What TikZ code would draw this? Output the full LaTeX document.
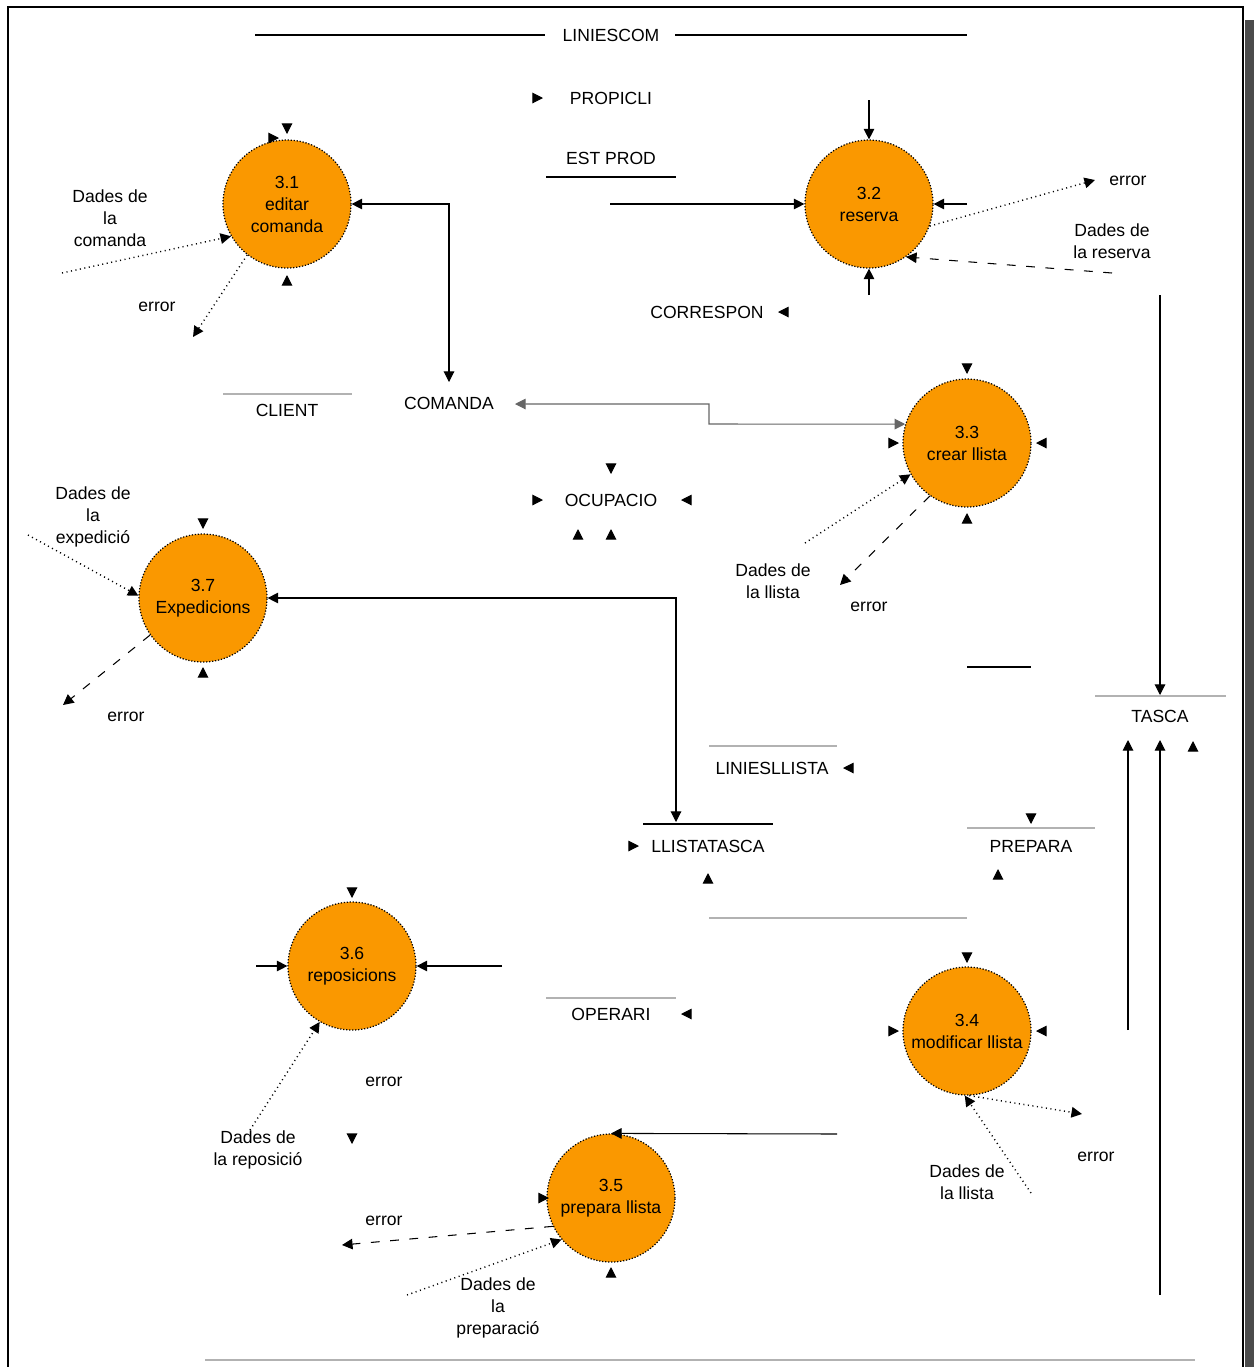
\documentclass[tikz,border=0pt]{standalone}
\usepackage{fontspec}
\setmainfont{Liberation Sans}
\usetikzlibrary{arrows.meta}
\definecolor{procorange}{HTML}{FA9800}

\begin{document}
\begin{tikzpicture}
    [x=0.02cm, y=-0.02cm,
    every node/.append style={font=\fontsize{10}{12.5}\selectfont},
    process/.style={circle, fill=procorange, draw, line width=0.7pt, densely dotted, minimum size=2.56cm, inner sep=0pt, align=center},
    store/.style={inner sep=1pt},
    label text/.style={align=center, inner sep=1pt},
    flow/.style={-{Triangle[length=6pt,width=6pt]}, line width=0.6pt},
    twoway/.style={{Triangle[length=6pt,width=6pt]}-{Triangle[length=6pt,width=6pt]}, line width=0.6pt},
    dataflow/.style={flow, dotted, line width=0.8pt},
    errflow/.style={flow, dash pattern=on 5pt off 6pt},
    storeline/.style={line width=0.7pt},
    paleline/.style={gray!60, line width=0.7pt}]

    \useasboundingbox (0,0) rectangle (1254,1367);
    % frame and shadow
    \fill[gray!60!black] (1245,20) rectangle (1254,1367);
    \draw[line width=1pt] (8,1367) -- (8,7) -- (1243,7) -- (1243,1367);

    % processes
    \node[process] (p31) at (287,204) {3.1\\editar\\comanda};
    \node[process] (p32) at (869,204) {3.2\\reserva};
    \node[process] (p33) at (967,443) {3.3\\crear llista};
    \node[process] (p34) at (967,1031) {3.4\\modificar llista};
    \node[process] (p35) at (611,1198) {3.5\\prepara llista};
    \node[process] (p36) at (352,966) {3.6\\reposicions};
    \node[process] (p37) at (203,598) {3.7\\Expedicions};

    % stores
    \node[store] (liniescom) at (611,35) {LINIESCOM};
    \node[store] (propicli) at (611,98) {PROPICLI};
    \node[store] (estprod) at (611,158) {EST PROD};
    \node[store] (correspon) at (707,312) {CORRESPON};
    \node[store] (client) at (287,410) {CLIENT};
    \node[store] (comanda) at (449,403) {COMANDA};
    \node[store] (ocupacio) at (611,500) {OCUPACIO};
    \node[store] (tasca) at (1160,716) {TASCA};
    \node[store] (liniesllista) at (772,768) {LINIESLLISTA};
    \node[store] (llistatasca) at (708,846) {LLISTATASCA};
    \node[store] (prepara) at (1031,846) {PREPARA};
    \node[store] (operari) at (611,1014) {OPERARI};

    % flow labels
    \node[label text] (d31) at (110,218) {Dades de\\la\\comanda};
    \node[label text] (e31) at (157,307) {error};
    \node[label text] (e32) at (1128,181) {error};
    \node[label text] (d32) at (1112,241) {Dades de\\la reserva};
    \node[label text] (d33) at (773,581) {Dades de\\la llista};
    \node[label text] (e33) at (869,607) {error};
    \node[label text] (d37) at (93,517) {Dades de\\la\\expedició};
    \node[label text] (e37) at (126,717) {error};
    \node[label text] (d36) at (258,1150) {Dades de\\la reposició};
    \node[label text] (e36) at (384,1082) {error};
    \node[label text] (e34) at (1096,1157) {error};
    \node[label text] (d34) at (967,1182) {Dades de\\la llista};
    \node[label text] (e35) at (384,1221) {error};
    \node[label text] (d35) at (498,1308) {Dades de\\la\\preparació};

    % loose ends
    \coordinate (c31a) at (62,273);
    \coordinate (c31b) at (193,337);
    \coordinate (c32a) at (610,204);
    \coordinate (c32b) at (869,100);
    \coordinate (c32c) at (967,204);
    \coordinate (c32d) at (869,295);
    \coordinate (c32e) at (1095,180);
    \coordinate (c32f) at (1112,273);
    \coordinate (ccom) at (449,382);
    \coordinate (ccomb) at (515,404);
    \coordinate (c33a) at (805,543);
    \coordinate (c33b) at (840,585);
    \coordinate (c37a) at (28,535);
    \coordinate (c37b) at (63,705);
    \coordinate (cllt) at (676,822);
    \coordinate (ctasa) at (1160,295);
    \coordinate (ctasb) at (1160,695);
    \coordinate (ctasc) at (1128,1030);
    \coordinate (ctasd) at (1160,1295);
    \coordinate (c36a) at (256,966);
    \coordinate (c36b) at (502,966);
    \coordinate (c36c) at (250,1130);
    \coordinate (c34a) at (1082,1114);
    \coordinate (c34b) at (1031,1193);
    \coordinate (c35a) at (837,1134);
    \coordinate (c35b) at (342,1245);
    \coordinate (c35c) at (407,1295);

    % store lines
    \draw[storeline] (255,35) -- (545,35);
    \draw[storeline] (675,35) -- (967,35);
    \draw[storeline] (546,177) -- (676,177);
    \draw[paleline] (223,394) -- (352,394);
    \draw[storeline] (967,667) -- (1031,667);
    \draw[paleline] (1095,696) -- (1226,696);
    \draw[paleline] (709,746) -- (837,746);
    \draw[storeline] (643,824) -- (773,824);
    \draw[paleline] (967,828) -- (1095,828);
    \draw[paleline] (709,918) -- (967,918);
    \draw[paleline] (546,998) -- (676,998);
    \draw[paleline] (205,1360) -- (1195,1360);

    % flows
    \draw[twoway] (ccom) -- (449,204) -- (p31.east);
    \draw[twoway, gray!80!black] (ccomb) -- (709,404) -- (709,424) -- (p33.163);
    \draw[dataflow] (c31a) -- (p31.-150);
    \draw[dataflow] (p31.-128) -- (c31b);
    \draw[flow] (c32a) -- (p32.west);
    \draw[flow] (c32b) -- (p32.north);
    \draw[flow] (c32c) -- (p32.east);
    \draw[flow] (c32d) -- (p32.south);
    \draw[dataflow] (p32.-20) -- (c32e);
    \draw[errflow] (c32f) -- (p32.-55);
    \draw[flow] (ctasa) -- (ctasb);
    \draw[dataflow] (c33a) -- (p33.-151);
    \draw[errflow] (p33.-125) -- (c33b);
    \draw[dataflow] (c37a) -- (p37.178);
    \draw[errflow] (p37.-145) -- (c37b);
    \draw[twoway] (cllt) -- (676,598) -- (p37.east);
    \draw[flow] (ctasc) -- (1128,740);
    \draw[flow] (ctasd) -- (1160,740);
    \draw[flow] (c36a) -- (p36.west);
    \draw[flow] (c36b) -- (p36.east);
    \draw[dataflow] (c36c) -- (p36.-120);
    \draw[dataflow] (p34.-88) -- (c34a);
    \draw[dataflow] (c34b) -- (p34.-92);
    \draw[flow] (c35a) -- (p35.north);
    \draw[errflow] (p35.-154) -- (c35b);
    \draw[dataflow] (c35c) -- (p35.-140);

    % loose arrow tips
    \foreach \x/\y/\u/\v in {287/134/0/1, 279/138/1/0, 287/275/0/-1,
        543/98/1/0, 778/312/-1/0,
        967/374/0/1, 899/443/1/0, 1036/443/-1/0, 967/513/0/-1,
        543/500/1/0, 681/500/-1/0, 611/474/0/1, 578/529/0/-1, 611/529/0/-1,
        203/529/0/1, 203/667/0/-1,
        1193/741/0/-1, 843/768/-1/0, 639/846/1/0, 708/873/0/-1,
        1031/824/0/1, 998/869/0/-1,
        352/898/0/1, 352/1144/0/1, 681/1014/-1/0,
        967/963/0/1, 899/1031/1/0, 1036/1031/-1/0,
        549/1198/1/0, 611/1267/0/-1}
        \draw[flow] (\x-\u*8,\y-\v*8) -- (\x,\y);

\end{tikzpicture}
\end{document}
